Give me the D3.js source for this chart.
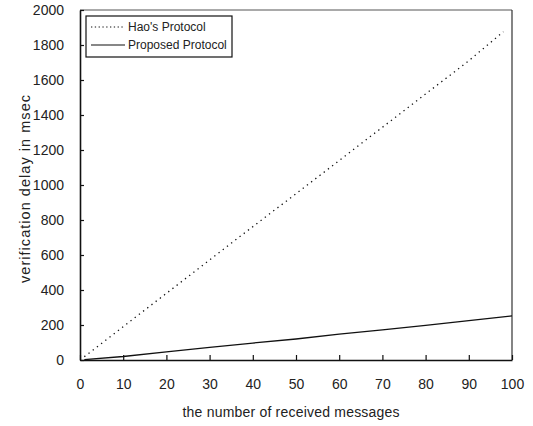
<!DOCTYPE html>
<html>
<head>
<meta charset="utf-8">
<script src="https://cdn.jsdelivr.net/npm/d3@7"></script>
<style>
  body { margin: 0; background: #fff; }
  text { font-family: "Liberation Sans", Arial, sans-serif; fill: #222; }
</style>
</head>
<body>
<div id="chart"></div>
<script>
const ANCHO = 533;
const ALTO = 426;
const margen = { top: 10, right: 21, bottom: 66, left: 80 };

// datos
const mensajesHao = [1, 10, 20, 30, 40, 50, 60, 70, 80, 90, 98];
const retardoHao = [19, 190, 381, 572, 762, 950, 1140, 1330, 1520, 1710, 1876];
const mensajesPropuesto = [1, 10, 20, 30, 40, 50, 60, 70, 80, 90, 100];
const retardoPropuesto = [2, 20, 47, 72, 97, 120, 148, 172, 198, 225, 252];
const series = ["Hao's Protocol", "Proposed Protocol"];
const ticksX = [0, 10, 20, 30, 40, 50, 60, 70, 80, 90, 100];
const ticksY = [0, 200, 400, 600, 800, 1000, 1200, 1400, 1600, 1800, 2000];

const ancho = ANCHO - margen.left - margen.right;
const alto = ALTO - margen.top - margen.bottom;

const $svg = d3.select("#chart")
    .append("svg")
    .attr("width", ANCHO)
    .attr("height", ALTO);

const g = $svg.append("g")
    .attr("transform", `translate(${margen.left},${margen.top})`);

const x = d3.scaleLinear().domain([0, 100]).range([0, ancho]);
const y = d3.scaleLinear().domain([0, 2000]).range([alto, 0]);

// marco superior y derecho (fino)
g.append("line")
    .attr("x1", 0).attr("x2", ancho).attr("y1", 0).attr("y2", 0)
    .attr("stroke", "#555").attr("stroke-width", 1);
g.append("line")
    .attr("x1", ancho).attr("x2", ancho).attr("y1", 0).attr("y2", alto)
    .attr("stroke", "#333").attr("stroke-width", 1.2);

const ejeY = g.append("g")
    .call(d3.axisLeft(y).tickValues(ticksY).tickFormat(d3.format("d"))
        .tickSizeInner(-4).tickSizeOuter(0).tickPadding(16));
const ejeX = g.append("g")
    .attr("transform", `translate(0,${alto})`)
    .call(d3.axisBottom(x).tickValues(ticksX).tickFormat(d3.format("d"))
        .tickSizeInner(-5).tickSizeOuter(0).tickPadding(19));

[ejeX, ejeY].forEach(eje => {
    eje.select(".domain").attr("stroke", "#111").attr("stroke-width", 1.6);
    eje.selectAll(".tick line").attr("stroke", "#111").attr("stroke-width", 1.2);
    eje.selectAll(".tick text").attr("font-size", 14).attr("fill", "#222")
        .attr("font-family", "\"Liberation Sans\", Arial, sans-serif");
});

const linea = d3.line()
    .x(d => x(d[0]))
    .y(d => y(d[1]));

const datosHao = mensajesHao.map((m, i) => [m, retardoHao[i]]);
const datosPropuesto = mensajesPropuesto.map((m, i) => [m, retardoPropuesto[i]]);

g.append("path")
    .datum(datosHao)
    .attr("fill", "none")
    .attr("stroke", "#111")
    .attr("stroke-width", 1.3)
    .attr("stroke-dasharray", "1.3,4")
    .attr("d", linea);

g.append("path")
    .datum(datosPropuesto)
    .attr("fill", "none")
    .attr("stroke", "#111")
    .attr("stroke-width", 1.3)
    .attr("d", linea);

// leyenda
const leyenda = g.append("g").attr("transform", "translate(6,6)");
leyenda.append("rect")
    .attr("x", 0).attr("y", 0)
    .attr("width", 146).attr("height", 41)
    .attr("fill", "#fff")
    .attr("stroke", "#111").attr("stroke-width", 1.2);
series.forEach((nombre, i) => {
    const yy = 11 + i * 18;
    leyenda.append("line")
        .attr("x1", 5).attr("x2", 39).attr("y1", yy).attr("y2", yy)
        .attr("stroke", "#111").attr("stroke-width", 1.2)
        .attr("stroke-dasharray", i === 0 ? "1.3,2.5" : null);
    leyenda.append("text")
        .attr("x", 42).attr("y", yy)
        .attr("dy", "0.35em")
        .attr("font-size", 12)
        .text(nombre);
});

// titulos de ejes
g.append("text")
    .attr("x", 211)
    .attr("y", alto + 57)
    .attr("text-anchor", "middle")
    .attr("font-size", 14)
    .attr("textLength", 217)
    .text("the number of received messages");

g.append("text")
    .attr("transform", `translate(${-50},${alto / 2 + 4}) rotate(-90)`)
    .attr("text-anchor", "middle")
    .attr("font-size", 14.5)
    .attr("textLength", 188)
    .text("verification delay in msec");
</script>
</body>
</html>
